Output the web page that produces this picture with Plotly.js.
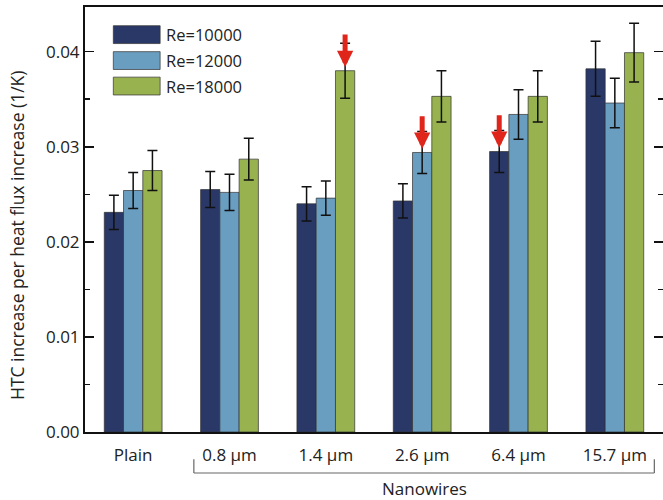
<!DOCTYPE html>
<html>
<head>
<meta charset="utf-8">
<script src="https://cdn.plot.ly/plotly-3.0.1.min.js"></script>
<style>html,body{margin:0;padding:0;background:#fff;}#chart{width:663px;height:500px;}</style>
</head>
<body>
<div id="chart"></div>
<script>
// ---- data ----
var categories = ['Plain', '0.8 μm', '1.4 μm', '2.6 μm', '6.4 μm', '15.7 μm'];
var seriesNames = ['Re=10000', 'Re=12000', 'Re=18000'];
var re10000 = [0.0231, 0.0255, 0.0240, 0.0243, 0.0295, 0.0382];
var re12000 = [0.0254, 0.0252, 0.0246, 0.0294, 0.0334, 0.0346];
var re18000 = [0.0275, 0.0287, 0.0380, 0.0353, 0.0353, 0.0399];
var err10000 = [0.0018, 0.0019, 0.0018, 0.0018, 0.0022, 0.0029];
var err12000 = [0.0019, 0.0019, 0.0018, 0.0022, 0.0026, 0.0026];
var err18000 = [0.0021, 0.0022, 0.0029, 0.0027, 0.0027, 0.0031];
var yTickVals = [0, 0.01, 0.02, 0.03, 0.04];
var yTitle = 'HTC increase per heat flux increase (1/K)';
var groupLabel = 'Nanowires';
// highlighted bars (category, series index)
var arrowCats = ['1.4 μm', '2.6 μm', '6.4 μm'];
var arrowSeries = [2, 1, 0];

var colors = ['#2a3868', '#6a9ec0', '#97b24e'];
var values = [re10000, re12000, re18000];
var errs = [err10000, err12000, err18000];
var FONT = 'Open Sans, Noto Sans, sans-serif';

var traces = values.map(function (v, i) {
  return {
    type: 'bar',
    name: seriesNames[i],
    x: categories,
    y: v,
    marker: {color: colors[i], line: {color: 'rgba(50,50,50,0.7)', width: 1}},
    error_y: {type: 'data', array: errs[i], visible: true, color: '#111', thickness: 1.5, width: 5},
    showlegend: false
  };
});

var shapes = [];
var annotations = [];

// custom legend
var legY = [0.935, 0.874, 0.814];
seriesNames.forEach(function (n, i) {
  shapes.push({type: 'rect', xref: 'paper', yref: 'paper', x0: 0.049, x1: 0.130,
    y0: legY[i] - 0.021, y1: legY[i] + 0.021, fillcolor: colors[i],
    line: {color: 'rgba(50,50,50,0.7)', width: 1}});
  annotations.push({xref: 'paper', yref: 'paper', x: 0.137, y: legY[i], text: n,
    showarrow: false, xanchor: 'left', yanchor: 'middle', font: {size: 16.5, color: '#222', family: FONT}});
});

// red arrows on highlighted bars
var barW = 0.2;
arrowCats.forEach(function (c, k) {
  var ci = categories.indexOf(c);
  var s = arrowSeries[k];
  annotations.push({xref: 'x', yref: 'y', x: ci + (s - 1) * barW, y: values[s][ci] + 0.0004,
    ax: 0, ay: -34, axref: 'pixel', ayref: 'pixel', showarrow: true, arrowhead: 2,
    arrowsize: 0.65, arrowwidth: 5, arrowcolor: '#e0251b', text: '', standoff: 0});
});

// bracket for the nanowire group
var bx0 = 0.63, bx1 = 5.41, byTop = -0.064, byBot = -0.0965;
[[bx0, byTop, bx0, byBot], [bx0, byBot, bx1, byBot], [bx1, byBot, bx1, byTop]].forEach(function (p) {
  shapes.push({type: 'line', xref: 'x', yref: 'paper', x0: p[0], y0: p[1], x1: p[2], y1: p[3],
    line: {color: '#666', width: 1.2}});
});
annotations.push({xref: 'x', yref: 'paper', x: (bx0 + bx1) / 2, y: -0.134, text: groupLabel,
  showarrow: false, xanchor: 'center', yanchor: 'middle', font: {size: 17, color: '#222', family: FONT}});

// y axis title
annotations.push({xref: 'paper', yref: 'paper', x: -0.118, y: 0.463, text: yTitle, textangle: -90,
  showarrow: false, xanchor: 'center', yanchor: 'middle', font: {size: 17.5, color: '#222', family: FONT}});

var layout = {
  width: 663, height: 500,
  margin: {l: 85, r: 0, t: 7, b: 68},
  paper_bgcolor: '#fff', plot_bgcolor: '#fff',
  font: {family: FONT, size: 16, color: '#222'},
  barmode: 'group', bargap: 0.4, bargroupgap: 0,
  showlegend: false,
  xaxis: {
    type: 'category', range: [-0.5, 5.5], showline: true, linecolor: '#111', linewidth: 2,
    mirror: true, ticks: '', showgrid: false, zeroline: false,
    tickfont: {size: 17, family: FONT, color: '#222'}, ticklabelstandoff: 7
  },
  yaxis: {
    range: [0, 0.0447], tickvals: yTickVals, tickformat: '.2f',
    showline: true, linecolor: '#111', linewidth: 2, mirror: 'ticks',
    ticks: 'inside', ticklen: 9, tickwidth: 1.5, tickcolor: '#111',
    minor: {ticks: 'inside', ticklen: 5, dtick: 0.005, tick0: 0, tickwidth: 1.5, tickcolor: '#111', showgrid: false},
    showgrid: false, zeroline: false,
    tickfont: {size: 17, family: FONT, color: '#222'}
  },
  shapes: shapes,
  annotations: annotations
};

Plotly.newPlot('chart', traces, layout, {displayModeBar: false, staticPlot: true});
</script>
</body>
</html>
